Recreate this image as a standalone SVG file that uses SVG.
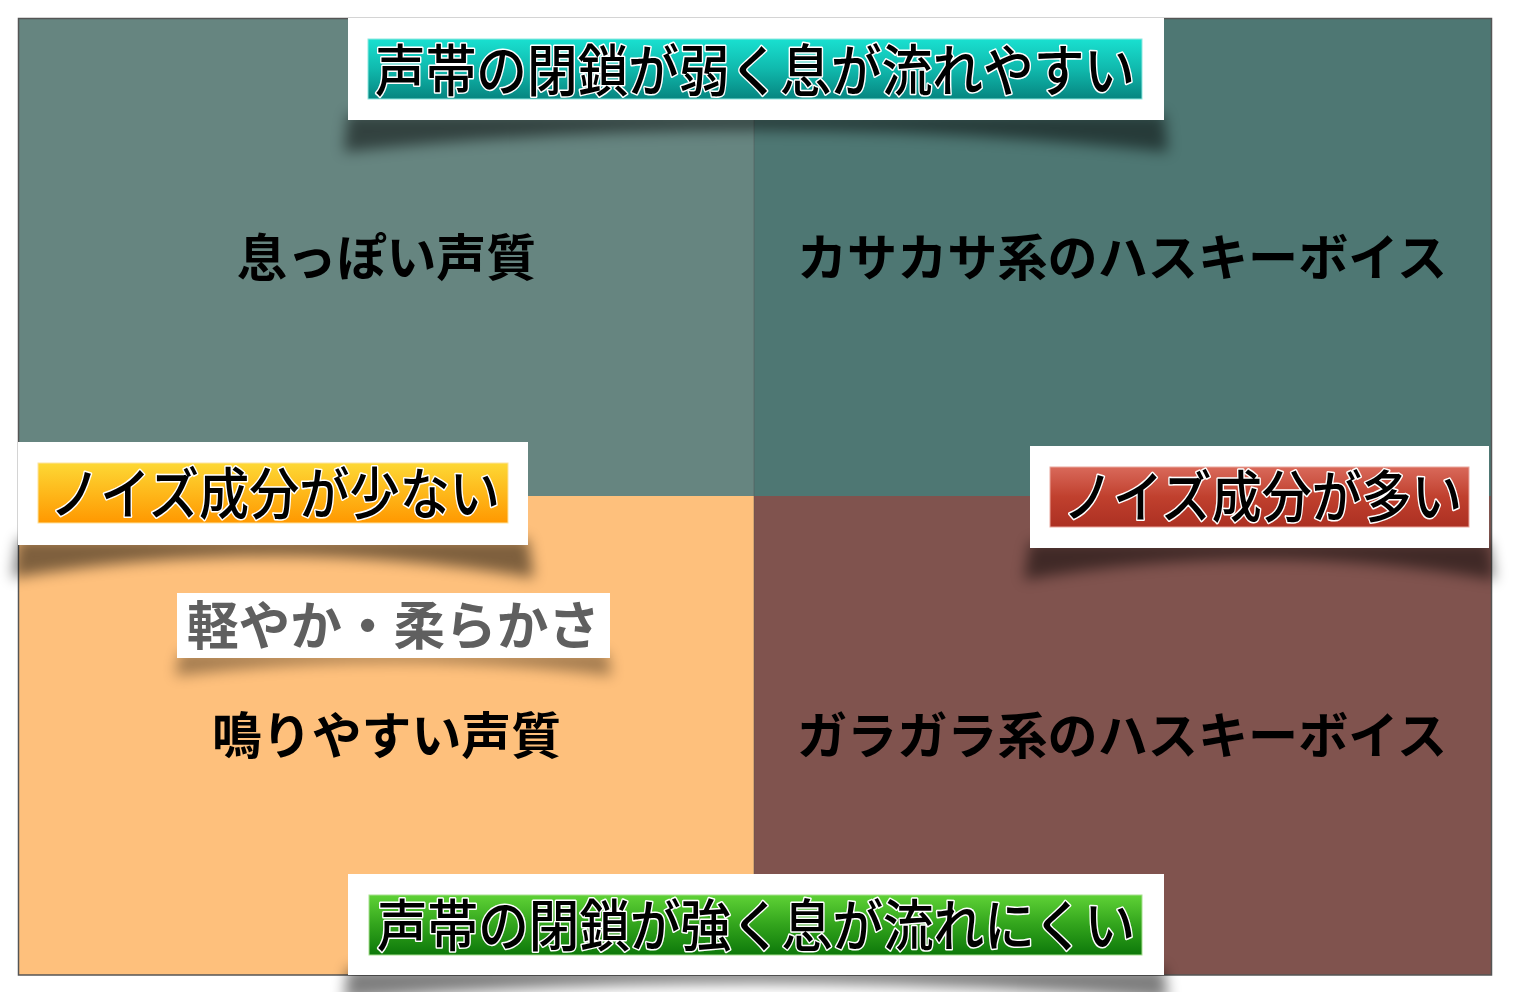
<svg xmlns="http://www.w3.org/2000/svg" width="1514" height="992" viewBox="0 0 1514 992">
<defs>
<style>
.qt{font-family:"Noto Sans CJK JP","Noto Sans CJK SC",sans-serif;font-weight:bold;font-size:50px;fill:#000;}
.lt{font-family:"Noto Sans CJK JP","Noto Sans CJK SC",sans-serif;font-weight:500;font-size:56px;fill:#000;stroke:#fff;stroke-width:3px;paint-order:stroke;stroke-linejoin:round;}
.mt{font-family:"Noto Sans CJK JP","Noto Sans CJK SC",sans-serif;font-weight:bold;font-size:52px;fill:#5f5f5f;}
.box{fill:#fff;}
.shadow{fill:#000;opacity:0.5;filter:url(#blur);}
</style>
<filter id="blur" x="-10%" y="-100%" width="120%" height="300%"><feGaussianBlur stdDeviation="7"/></filter>
<linearGradient id="gCyan" x1="0" y1="0" x2="0" y2="1"><stop offset="0" stop-color="#19e0d0"/><stop offset="0.5" stop-color="#10b9ad"/><stop offset="1" stop-color="#068580"/></linearGradient>
<linearGradient id="gOrange" x1="0" y1="0" x2="0" y2="1"><stop offset="0" stop-color="#fdd835"/><stop offset="1" stop-color="#ff9800"/></linearGradient>
<linearGradient id="gRed" x1="0" y1="0" x2="0" y2="1"><stop offset="0" stop-color="#d9695a"/><stop offset="0.5" stop-color="#c0402e"/><stop offset="1" stop-color="#ac3022"/></linearGradient>
<linearGradient id="gGreen" x1="0" y1="0" x2="0" y2="1"><stop offset="0" stop-color="#5fd236"/><stop offset="0.5" stop-color="#32a41c"/><stop offset="1" stop-color="#0d780a"/></linearGradient>
</defs>
<rect width="1514" height="992" fill="#fff"/>
<g id="quadrants">
<rect x="18" y="18" width="736" height="478" fill="#668580"/>
<rect x="754" y="18" width="738" height="478" fill="#4e7773"/>
<rect x="18" y="496" width="736" height="479" fill="#fec07c"/>
<rect x="754" y="496" width="738" height="479" fill="#80534e"/>
<line x1="754" y1="18" x2="754" y2="975" stroke="#555" stroke-width="1" opacity="0.5"/>
<rect x="18.5" y="18.5" width="1473" height="956.5" fill="none" stroke="#555" stroke-width="1.5"/>
</g>
<g id="connectors"></g>
<g id="q-tl"><text class="qt" x="237" y="276" textLength="299" lengthAdjust="spacingAndGlyphs">息っぽい声質</text></g>
<g id="q-tr"><text class="qt" x="797" y="276" textLength="650" lengthAdjust="spacingAndGlyphs">カサカサ系のハスキーボイス</text></g>
<g id="q-bl"><text class="qt" x="212" y="754" textLength="349" lengthAdjust="spacingAndGlyphs">鳴りやすい声質</text></g>
<g id="q-br"><text class="qt" x="797" y="754" textLength="650" lengthAdjust="spacingAndGlyphs">ガラガラ系のハスキーボイス</text></g>
<g id="label-top">
<path class="shadow" d="M348 114 L1164 114 L1168 152 Q756 108 344 152 Z"/>
<rect class="box" x="348" y="18" width="816" height="102"/>
<rect x="368" y="39" width="774" height="60" fill="url(#gCyan)" stroke="#8fe8e0" stroke-width="1"/>
<text class="lt" x="375" y="91" textLength="760" lengthAdjust="spacingAndGlyphs">声帯の閉鎖が弱く息が流れやすい</text>
</g>
<g id="label-left">
<path class="shadow" d="M18 539 L528 539 L534 578 Q273 534 12 578 Z"/>
<rect class="box" x="18" y="442" width="510" height="103"/>
<rect x="38" y="463" width="470" height="60" fill="url(#gOrange)" stroke="#fde3a0" stroke-width="1"/>
<text class="lt" x="50" y="514" textLength="450" lengthAdjust="spacingAndGlyphs">ノイズ成分が少ない</text>
</g>
<g id="label-right">
<path class="shadow" d="M1030 542 L1489 542 L1495 580 Q1260 538 1024 580 Z"/>
<rect class="box" x="1030" y="446" width="459" height="102"/>
<rect x="1050" y="467" width="419" height="60" fill="url(#gRed)" stroke="#eaa79e" stroke-width="1"/>
<text class="lt" x="1063" y="517" textLength="399" lengthAdjust="spacingAndGlyphs">ノイズ成分が多い</text>
</g>
<g id="label-mid">
<path d="M180 652 L607 652 L612 676 Q393 648 175 676 Z" fill="#000" opacity="0.35" filter="url(#blur)"/>
<rect class="box" x="177" y="593" width="433" height="65"/>
<text class="mt" x="187" y="645" textLength="413" lengthAdjust="spacingAndGlyphs">軽やか・柔らかさ</text>
</g>
<g id="label-bottom">
<path class="shadow" d="M348 968 L1164 968 L1168 1000 Q756 966 344 1000 Z"/>
<rect class="box" x="348" y="874" width="816" height="101"/>
<rect x="369" y="895" width="773" height="60" fill="url(#gGreen)" stroke="#a8e090" stroke-width="1"/>
<text class="lt" x="377" y="946" textLength="758" lengthAdjust="spacingAndGlyphs">声帯の閉鎖が強く息が流れにくい</text>
</g>
</svg>
